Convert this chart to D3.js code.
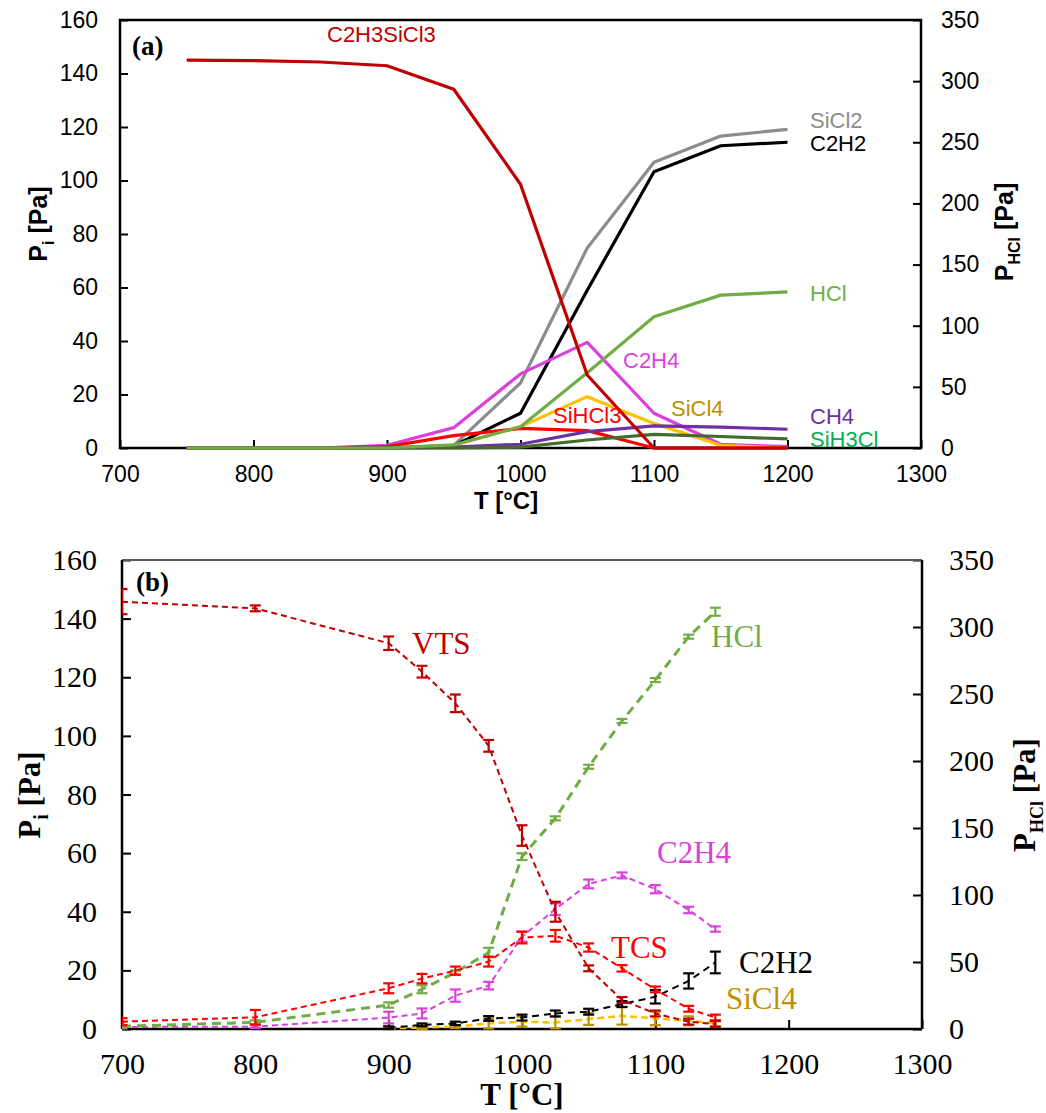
<!DOCTYPE html>
<html><head><meta charset="utf-8">
<script src="https://cdn.jsdelivr.net/npm/d3@7"></script>
<style>body{margin:0;background:#fff}</style>
</head><body><svg id="c" width="1046" height="1113" xmlns="http://www.w3.org/2000/svg"></svg>
<script>
// ---------- Panel (a) data ----------
const aT = [750, 800, 850, 900, 950, 1000, 1050, 1100, 1150, 1200];
const a_C2H3SiCl3 = [145, 144.8, 144.3, 142.9, 134.1, 98.6, 27.3, 0, 0, 0];
const a_SiCl2 = [0, 0, 0, 0, 1, 24.3, 74.8, 106.8, 116.6, 119.1];
const a_C2H2 = [0, 0, 0, 0, 0.9, 13, 59, 103.3, 113, 114.3];
const a_C2H4 = [0, 0, 0, 1, 7.6, 27.7, 39.5, 13, 1.4, 0.5];
const a_SiCl4 = [0, 0, 0, 0, 1, 8, 19.2, 9.2, 1, 0];
const a_SiHCl3 = [0, 0, 0, 0.5, 4.6, 7.3, 6.5, 0, 0, 0];
const a_CH4 = [0, 0, 0, 0, 0.3, 1.4, 6.1, 8.3, 7.8, 7.0];
const a_SiH3Cl = [0, 0, 0, 0, 0, 0.3, 3, 5.1, 4.3, 3.4];
const a_HCl = [0, 0, 0, 0, 2.5, 17.4, 61.6, 107.4, 125, 127.6]; // right axis

// ---------- Panel (b) data ----------
const bT = [700, 800, 900, 925, 950, 975, 1000, 1025, 1050, 1075, 1100, 1125, 1145];
const b_VTS     = [145.8, 143.5, 131.6, 121.9, 111.1, 96.6, 66, 40, 20.7, 9.9, 5.3, 2.5, 1.7];
const b_VTS_err = [4.3, 1, 2.3, 2, 3, 2, 3.5, 3.4, 1, 1, 1, 1, 1];
const b_TCS     = [2.5, 4, 13.9, 17.2, 19.9, 23, 31.2, 31.8, 27.8, 20.7, 13.5, 6.9, 3.9];
const b_TCS_err = [1.2, 2.5, 1.7, 1.6, 1.4, 1.7, 2, 2, 1.4, 1.1, 1, 1, 1];
const b_C2H4     = [0.7, 0.8, 3.9, 5.3, 11.4, 14.8, 31.5, 40.9, 49.5, 52.4, 47.7, 40.6, 34.1];
const b_C2H4_err = [0.5, 0.5, 2, 1.7, 2.1, 1.3, 1.7, 2, 1.5, 1, 1.4, 1.1, 0.9];
const b_C2H2     = [null, null, 0.4, 1.4, 1.9, 3.6, 3.9, 5.3, 5.9, 8.5, 11, 16.4, 22.7];
const b_C2H2_err = [null, null, 0.5, 0.5, 0.6, 0.8, 1, 1, 1, 1, 2.3, 2.6, 3.7];
const b_SiCl4     = [null, null, 0.2, 0.5, 0.8, 1.9, 2.5, 2.2, 3.4, 4.5, 3.6, 2.8, 2.0];
const b_SiCl4_err = [null, null, 0.3, 0.5, 0.5, 1.7, 1.7, 2, 2, 3, 2.3, 1.5, 1];
const b_HCl     = [2, 5, 17.9, 29.7, 42.2, 57.1, 128.6, 157.2, 195.7, 229.9, 260.4, 292.8, 311.4]; // right axis
const b_HCl_err = [1, 1.5, 2, 3, 1.5, 3.5, 2.5, 1.5, 1.5, 1.5, 1.5, 1.5, 3];

// ---------- tick values ----------
const xTicks = [700, 800, 900, 1000, 1100, 1200, 1300];
const yLeftTicks = [0, 20, 40, 60, 80, 100, 120, 140, 160];
const yRightTicks = [0, 50, 100, 150, 200, 250, 300, 350];

const svg = d3.select('#c');
const SANS = "'Liberation Sans', Arial, sans-serif";
const SERIF = "'Liberation Serif', 'Times New Roman', serif";
const fmt = d3.format('d');

function styleAxis(g, font, size) {
  g.select('.domain').remove();
  g.selectAll('.tick line').attr('stroke', '#000').attr('stroke-width', 2);
  g.selectAll('.tick text').attr('font-family', font).attr('font-size', size).attr('fill', '#000');
}

// ================= PANEL A =================
const A = {l: 120, r: 921, t: 20, b: 448};
const xA = d3.scaleLinear().domain([700, 1300]).range([A.l, A.r]);
const yA = d3.scaleLinear().domain([0, 160]).range([A.b, A.t]);
const yA2 = d3.scaleLinear().domain([0, 350]).range([A.b, A.t]);

const gA = svg.append('g');
gA.append('g').attr('transform', `translate(${A.l},0)`)
  .call(d3.axisLeft(yA).tickValues(yLeftTicks).tickFormat(fmt).tickSize(-8).tickPadding(22))
  .call(g => styleAxis(g, SANS, '23px'));
gA.append('g').attr('transform', `translate(${A.r},0)`)
  .call(d3.axisRight(yA2).tickValues(yRightTicks).tickFormat(fmt).tickSize(-8).tickPadding(20))
  .call(g => styleAxis(g, SANS, '23px'));
gA.append('g').attr('transform', `translate(0,${A.b})`)
  .call(d3.axisBottom(xA).tickValues(xTicks).tickFormat(fmt).tickSize(-8).tickPadding(18))
  .call(g => styleAxis(g, SANS, '23px'));

gA.append('rect').attr('x', A.l).attr('y', A.t).attr('width', A.r - A.l).attr('height', A.b - A.t)
  .attr('fill', 'none').attr('stroke', '#000').attr('stroke-width', 2.5);

const seriesA = [
  {v: a_SiCl2, c: '#8C8C8C', y: yA},
  {v: a_C2H2, c: '#000000', y: yA},
  {v: a_C2H4, c: '#DD3FDD', y: yA},
  {v: a_SiCl4, c: '#FFC000', y: yA},
  {v: a_SiHCl3, c: '#FF0000', y: yA},
  {v: a_CH4, c: '#7030A0', y: yA},
  {v: a_SiH3Cl, c: '#426B2C', y: yA},
  {v: a_HCl, c: '#70AD47', y: yA2},
  {v: a_C2H3SiCl3, c: '#C00000', y: yA},
];
seriesA.forEach(s => {
  const line = d3.line().x((d, i) => xA(aT[i])).y(d => s.y(d));
  gA.append('path').attr('d', line(s.v)).attr('fill', 'none')
    .attr('stroke', s.c).attr('stroke-width', 3.2).attr('stroke-linejoin', 'round');
});

const labelsA = [
  {t: 'C2H3SiCl3', x: 327, y: 41.5, c: '#C00000'},
  {t: 'SiCl2', x: 810, y: 128, c: '#8C8C8C'},
  {t: 'C2H2', x: 810, y: 151, c: '#000000'},
  {t: 'HCl', x: 810, y: 301, c: '#70AD47'},
  {t: 'C2H4', x: 623, y: 368, c: '#DD3FDD'},
  {t: 'SiCl4', x: 671, y: 416, c: '#BF9000'},
  {t: 'SiHCl3', x: 553, y: 423, c: '#FF0000'},
  {t: 'CH4', x: 810, y: 424, c: '#7030A0'},
  {t: 'SiH3Cl', x: 810, y: 447, c: '#00B050'},
];
labelsA.forEach(l => gA.append('text').attr('x', l.x).attr('y', l.y).text(l.t)
  .attr('font-family', SANS).attr('font-size', '22px').attr('fill', l.c));

gA.append('text').attr('x', 132).attr('y', 55).text('(a)')
  .attr('font-family', SERIF).attr('font-weight', 'bold').attr('font-size', '27px');

// axis titles A
gA.append('text').attr('x', 506).attr('y', 509).attr('text-anchor', 'middle')
  .attr('font-family', SANS).attr('font-weight', 'bold').attr('font-size', '24px').text('T [°C]');
{
  const t = gA.append('text').attr('transform', 'translate(47,224) rotate(-90)').attr('text-anchor', 'middle')
    .attr('font-family', SANS).attr('font-weight', 'bold').attr('font-size', '25px');
  t.append('tspan').text('P');
  t.append('tspan').attr('font-size', '16px').attr('dy', 7).text('i');
  t.append('tspan').attr('dy', -7).text(' [Pa]');
}
{
  const t = gA.append('text').attr('transform', 'translate(1013,232) rotate(-90)').attr('text-anchor', 'middle')
    .attr('font-family', SANS).attr('font-weight', 'bold').attr('font-size', '25px');
  t.append('tspan').text('P');
  t.append('tspan').attr('font-size', '16px').attr('dy', 7).text('HCl');
  t.append('tspan').attr('dy', -7).text(' [Pa]');
}

// ================= PANEL B =================
const B = {l: 122, r: 922, t: 560, b: 1029};
const xB = d3.scaleLinear().domain([700, 1300]).range([B.l, B.r]);
const yB = d3.scaleLinear().domain([0, 160]).range([B.b, B.t]);
const yB2 = d3.scaleLinear().domain([0, 350]).range([B.b, B.t]);

const gB = svg.append('g');
gB.append('g').attr('transform', `translate(${B.l},0)`)
  .call(d3.axisLeft(yB).tickValues(yLeftTicks).tickFormat(fmt).tickSize(-9).tickPadding(25))
  .call(g => styleAxis(g, SERIF, '30px'));
gB.append('g').attr('transform', `translate(${B.r},0)`)
  .call(d3.axisRight(yB2).tickValues(yRightTicks).tickFormat(fmt).tickSize(-9).tickPadding(27))
  .call(g => styleAxis(g, SERIF, '30px'));
gB.append('g').attr('transform', `translate(0,${B.b})`)
  .call(d3.axisBottom(xB).tickValues(xTicks).tickFormat(fmt).tickSize(-9).tickPadding(24))
  .call(g => styleAxis(g, SERIF, '30px'));

gB.append('line').attr('x1', B.l).attr('x2', B.r).attr('y1', B.t).attr('y2', B.t)
  .attr('stroke', '#595959').attr('stroke-width', 2);
gB.append('line').attr('x1', B.l).attr('x2', B.r).attr('y1', B.b).attr('y2', B.b)
  .attr('stroke', '#000').attr('stroke-width', 2.5);
gB.append('line').attr('x1', B.l).attr('x2', B.l).attr('y1', B.t).attr('y2', B.b)
  .attr('stroke', '#000').attr('stroke-width', 2.5);
gB.append('line').attr('x1', B.r).attr('x2', B.r).attr('y1', B.t).attr('y2', B.b)
  .attr('stroke', '#000').attr('stroke-width', 2.5);

svg.append('defs').append('clipPath').attr('id', 'clipB')
  .append('rect').attr('x', B.l).attr('y', B.t - 40).attr('width', B.r - B.l).attr('height', B.b - B.t + 50);

const plotB = gB.append('g').attr('clip-path', 'url(#clipB)');

const seriesB = [
  {v: b_SiCl4, e: b_SiCl4_err, c: '#FFC000', ec: '#BF9000', y: yB, w: 2.5, dash: '7,4'},
  {v: b_C2H2, e: b_C2H2_err, c: '#000000', ec: '#000000', y: yB, w: 2, dash: '7,5'},
  {v: b_C2H4, e: b_C2H4_err, c: '#DA40DA', ec: '#DA40DA', y: yB, w: 2, dash: '6,4'},
  {v: b_HCl, e: b_HCl_err, c: '#70AD47', ec: '#70AD47', y: yB2, w: 3, dash: '9,6'},
  {v: b_TCS, e: b_TCS_err, c: '#FF0000', ec: '#FF0000', y: yB, w: 2, dash: '6,4'},
  {v: b_VTS, e: b_VTS_err, c: '#C00000', ec: '#C00000', y: yB, w: 2, dash: '6,4'},
];
seriesB.forEach(s => {
  const line = d3.line().defined(d => d != null).x((d, i) => xB(bT[i])).y(d => s.y(d));
  plotB.append('path').attr('d', line(s.v)).attr('fill', 'none')
    .attr('stroke', s.c).attr('stroke-width', s.w).attr('stroke-dasharray', s.dash);
  const eg = plotB.append('g').attr('stroke', s.ec).attr('stroke-width', 2.2);
  s.v.forEach((v, i) => {
    if (v == null) return;
    const x = xB(bT[i]);
    const y1 = s.y(v + s.e[i]), y0 = s.y(Math.max(0, v - s.e[i]));
    eg.append('line').attr('x1', x).attr('x2', x).attr('y1', y1).attr('y2', y0);
    eg.append('line').attr('x1', x - 5.5).attr('x2', x + 5.5).attr('y1', y1).attr('y2', y1);
    eg.append('line').attr('x1', x - 5.5).attr('x2', x + 5.5).attr('y1', y0).attr('y2', y0);
  });
});

const labelsB = [
  {t: 'VTS', x: 412, y: 654, c: '#C00000'},
  {t: 'HCl', x: 711, y: 647, c: '#70AD47'},
  {t: 'C2H4', x: 657, y: 863, c: '#DA40DA'},
  {t: 'TCS', x: 611, y: 958, c: '#FF0000'},
  {t: 'C2H2', x: 739, y: 973, c: '#000000'},
  {t: 'SiCl4', x: 726, y: 1009, c: '#BF9000'},
];
labelsB.forEach(l => gB.append('text').attr('x', l.x).attr('y', l.y).text(l.t)
  .attr('font-family', SERIF).attr('font-size', '31px').attr('fill', l.c));

gB.append('text').attr('x', 136).attr('y', 591).text('(b)')
  .attr('font-family', SERIF).attr('font-weight', 'bold').attr('font-size', '27px');

gB.append('text').attr('x', 522).attr('y', 1105).attr('text-anchor', 'middle')
  .attr('font-family', SERIF).attr('font-weight', 'bold').attr('font-size', '31px').text('T [°C]');
{
  const t = gB.append('text').attr('transform', 'translate(40,795) rotate(-90)').attr('text-anchor', 'middle')
    .attr('font-family', SERIF).attr('font-weight', 'bold').attr('font-size', '31px');
  t.append('tspan').text('P');
  t.append('tspan').attr('font-size', '20px').attr('dy', 8).text('i');
  t.append('tspan').attr('dy', -8).text(' [Pa]');
}
{
  const t = gB.append('text').attr('transform', 'translate(1035,795) rotate(-90)').attr('text-anchor', 'middle')
    .attr('font-family', SERIF).attr('font-weight', 'bold').attr('font-size', '31px');
  t.append('tspan').text('P');
  t.append('tspan').attr('font-size', '18px').attr('dy', 8).text('HCl');
  t.append('tspan').attr('dy', -8).text(' [Pa]');
}
</script>
</body></html>
